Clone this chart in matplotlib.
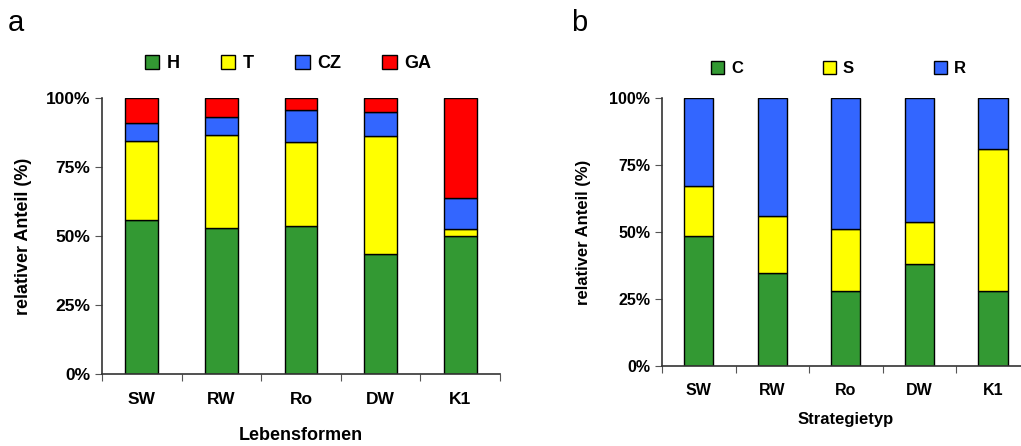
import numpy as np
import matplotlib
matplotlib.use("Agg")
import matplotlib.pyplot as plt
from matplotlib.ticker import PercentFormatter

plt.rcParams["font.family"] = ["Liberation Sans", "DejaVu Sans"]
plt.rcParams["font.weight"] = "bold"

# ---- data ----
sites = ["SW", "RW", "Ro", "DW", "K1"]

# panel a: Lebensformen (%)
life_labels = ["H", "T", "CZ", "GA"]
H = [55.8, 52.8, 53.6, 43.4, 49.9]
T = [28.4, 33.8, 30.3, 42.9, 2.8]
CZ = [6.5, 6.5, 11.5, 8.4, 11.0]
GA = [9.3, 6.9, 4.6, 5.3, 36.3]

# panel b: Strategietyp (%)
strat_labels = ["C", "S", "R"]
C = [48.5, 34.6, 27.9, 38.2, 27.9]
S = [18.5, 21.4, 23.3, 15.6, 53.1]
R = [33.0, 44.0, 48.8, 46.2, 19.0]

colors = ["#339933", "#FFFF00", "#3366FF", "#FF0000"]

fig = plt.figure(figsize=(10.21, 4.46), dpi=100)
ax_a = fig.add_axes([0.0999, 0.1608, 0.3898, 0.620])
ax_b = fig.add_axes([0.6484, 0.1787, 0.360, 0.602])


def stacked(ax, series, labels, width, fs_tick, pad):
    x = np.arange(len(sites))
    bottom = np.zeros(len(sites))
    for vals, lab, col in zip(series, labels, colors):
        ax.bar(x, vals, width, bottom=bottom, color=col, edgecolor="black",
               linewidth=1.0, label=lab)
        bottom += np.array(vals)
    ax.set_xlim(-0.5, 4.5)
    ax.set_ylim(0, 100)
    ax.set_yticks([0, 25, 50, 75, 100])
    ax.yaxis.set_major_formatter(PercentFormatter(decimals=0))
    ax.set_xticks(np.arange(-0.5, 5, 1))
    ax.set_xticklabels([])
    ax.set_xticks(x, minor=True)
    ax.set_xticklabels(sites, minor=True, fontsize=fs_tick, fontweight="bold")
    ax.tick_params(axis="x", which="minor", length=0, pad=pad)
    ax.tick_params(axis="x", which="major", length=5, direction="out", color="#555555")
    ax.tick_params(axis="y", length=5, direction="out", labelsize=fs_tick, color="#555555")
    for sp in ["top", "right"]:
        ax.spines[sp].set_visible(False)
    for sp in ["left", "bottom"]:
        ax.spines[sp].set_color("#333333")
        ax.spines[sp].set_linewidth(1.2)
    for t in ax.get_yticklabels():
        t.set_fontweight("bold")


stacked(ax_a, [H, T, CZ, GA], life_labels, 0.41, 12.5, 13)
ax_a.set_xlabel("Lebensformen", fontsize=13, fontweight="bold", labelpad=14)
ax_a.set_ylabel("relativer Anteil (%)", fontsize=13, fontweight="bold", labelpad=10)
ax_a.legend(loc="center", bbox_to_anchor=(0.467, 1.124), ncol=4, frameon=False,
            fontsize=13, handlelength=0.8, handleheight=0.8, handletextpad=0.4,
            columnspacing=2.3)

stacked(ax_b, [C, S, R], strat_labels, 0.40, 11.5, 12)
ax_b.set_xlabel("Strategietyp", fontsize=12, fontweight="bold", labelpad=10)
ax_b.set_ylabel("relativer Anteil (%)", fontsize=12, fontweight="bold", labelpad=13)
ax_b.legend(loc="center", bbox_to_anchor=(0.48, 1.108), ncol=3, frameon=False,
            fontsize=12, handlelength=0.8, handleheight=0.8, handletextpad=0.4,
            columnspacing=4.8)

fig.text(0.008, 0.93, "a", fontsize=21, fontweight="normal")
fig.text(0.559, 0.93, "b", fontsize=21, fontweight="normal")

fig.savefig("out.png", dpi=100)
